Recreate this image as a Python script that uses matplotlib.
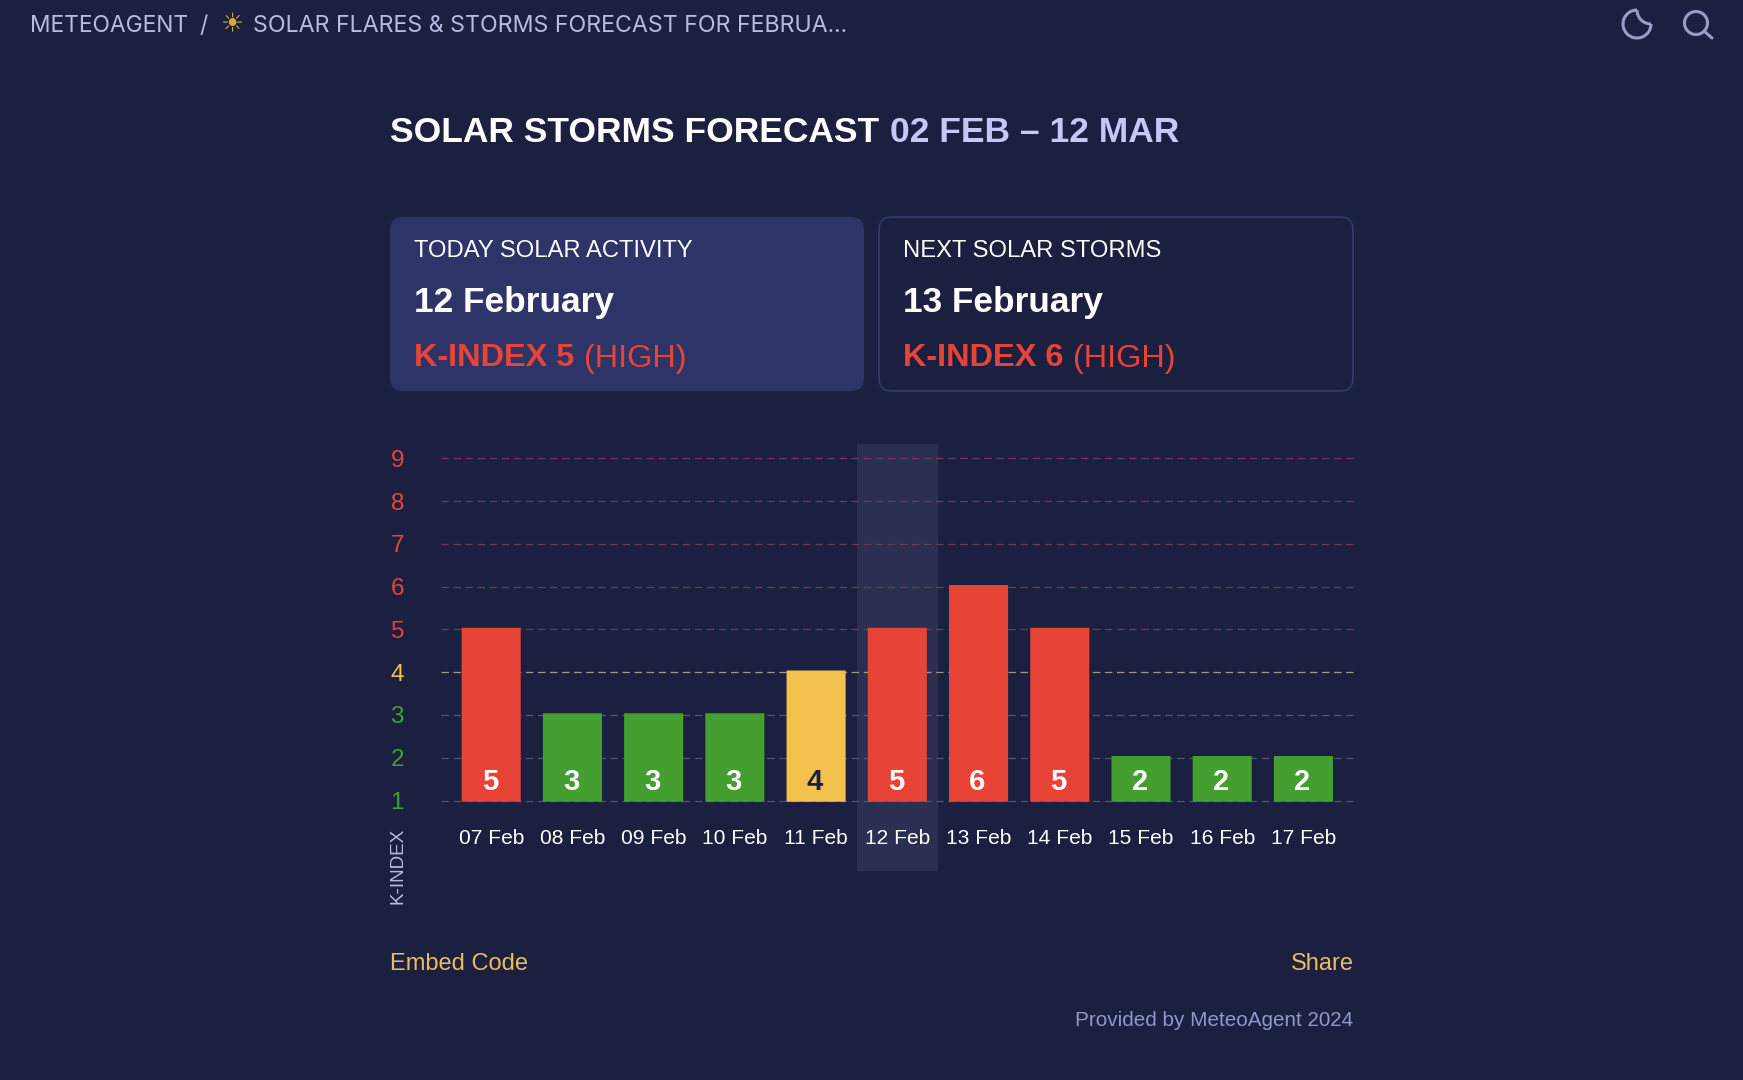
#!/usr/bin/env python3
"""K-index forecast card, redrawn with a pixel overlay for the page chrome."""

import matplotlib
matplotlib.use("Agg")
import matplotlib.pyplot as plt
from matplotlib.patches import Arc, Circle, FancyBboxPatch, Rectangle

W, H = 1743, 1080

dates = ["07 Feb", "08 Feb", "09 Feb", "10 Feb", "11 Feb", "12 Feb",
         "13 Feb", "14 Feb", "15 Feb", "16 Feb", "17 Feb"]
kindex = [5, 3, 3, 3, 4, 5, 6, 5, 2, 2, 2]
levels = [1, 2, 3, 4, 5, 6, 7, 8, 9]
today = "12 Feb"

BG, CARD, CARD_EDGE, BAND = "#1c2040", "#2f3468", "#3a3f75", "#2b3052"
RED, GREEN, YELLOW = "#e84337", "#449e30", "#f2c14e"
LILAC, SOFT, MUTED = "#b9b9e2", "#c5c8f5", "#9296c8"
SANS = "Liberation Sans"

plt.rcParams.update({"font.family": SANS})


def level_color(k):
    if k >= 5:
        return RED
    return YELLOW if k == 4 else GREEN


def grid_color(k):
    if k >= 5:
        return "#6f3a52"
    return "#9c9682" if k == 4 else "#51556f"


fig = plt.figure(figsize=(W / 100, H / 100), dpi=100, facecolor=BG)
page = fig.add_axes([0, 0, 1, 1])
page.set_xlim(0, W)
page.set_ylim(H, 0)
page.axis("off")
renderer = fig.canvas.get_renderer()


def run(x, y, parts, gap=0):
    # lay text runs end to end on one baseline
    for s, size, weight, color in parts:
        t = page.text(x, y, s, fontsize=size, weight=weight, color=color,
                      va="baseline")
        x += t.get_window_extent(renderer).width + gap


# ------------------------------------------------------------- top bar
page.text(30, 32, "METEOAGENT", family="Inter", fontsize=16.4, color=LILAC,
          va="baseline")
page.text(199, 32, "/", family="Inter", fontsize=16.6, color=LILAC,
          va="baseline", ha="left")
page.text(232, 24, "☀", family="DejaVu Sans", fontsize=18.5, color="#d9a63e",
          ha="center", va="center")
page.text(253, 32, "SOLAR FLARES & STORMS FORECAST FOR FEBRUA...",
          family="Inter", fontsize=16.7, color=LILAC, va="baseline")

ICON = "#9a9cc8"
page.add_patch(Arc((1637, 24), 28, 28, theta1=0, theta2=270, color=ICON, lw=2.2))
page.add_patch(Arc((1651, 10), 28, 28, theta1=90, theta2=180, color=ICON, lw=2.2))
page.add_patch(Circle((1696, 23), 11.5, fill=False, edgecolor=ICON, lw=2.2))
page.plot([1704, 1712], [31, 38], color=ICON, lw=2.2, solid_capstyle="round")

# --------------------------------------------------------------- title
run(390, 141.5, [("SOLAR STORMS FORECAST", 25.5, "bold", "white"),
                 ("02 FEB – 12 MAR", 25.5, "bold", SOFT)], gap=11)

# --------------------------------------------------------------- cards
page.add_patch(FancyBboxPatch((390, 217), 474, 174, facecolor=CARD,
                              edgecolor="none",
                              boxstyle="round,pad=0,rounding_size=13"))
page.add_patch(FancyBboxPatch((879, 217), 474, 174, facecolor=BG,
                              edgecolor=CARD_EDGE, lw=1.0,
                              boxstyle="round,pad=0,rounding_size=13"))
for x0, head, day, k in [(414, "TODAY SOLAR ACTIVITY", "12 February", 5),
                         (903, "NEXT SOLAR STORMS", "13 February", 6)]:
    page.text(x0, 257, head, fontsize=17.1, color="white", va="baseline")
    page.text(x0, 312, day, fontsize=25.4, weight="bold", color="white",
              va="baseline")
    run(x0, 366.5, [(f"K-INDEX {k}", 23.4, "bold", RED),
                    ("(HIGH)", 23.4, "normal", RED)], gap=10)

# --------------------------------------------------------------- chart
ax = fig.add_axes([441 / W, (H - 800.5) / H, 912 / W, 357 / H],
                  facecolor="none")
ax.set_xlim(-0.618, 10.61)
ax.set_ylim(1, 9.35)
for s in ax.spines.values():
    s.set_visible(False)

ax.add_patch(Rectangle((dates.index(today) - 0.5, -0.66), 1, 10.01,
                       facecolor=BAND, edgecolor="none", zorder=1,
                       clip_on=False))
for k in levels:
    ax.axhline(k, color=grid_color(k), lw=0.9, dashes=(6, 3.65), zorder=2,
               clip_on=False)

# bars stand about 2 px proud of their grid line, with small round tops
x_pos = range(len(dates))
bars = ax.bar(x_pos, [v - 0.97 + 0.04 for v in kindex], bottom=0.97, width=0.727,
              color=[level_color(v) for v in kindex], zorder=3, clip_on=False)
for b, v in zip(bars, kindex):
    b.set_snap(False)
    clip = FancyBboxPatch((b.get_x(), 0), b.get_width(), v + 0.04,
                          boxstyle="round,pad=0,rounding_size=0.04",
                          mutation_aspect=0.52, transform=ax.transData)
    b.set_clip_path(clip)
    ax.annotate(str(v), (b.get_x() + b.get_width() / 2, 1),
                xytext=(-1, 7.2), textcoords="offset points", ha="center",
                va="baseline", fontsize=21, weight="bold", zorder=4,
                color=BG if v == 4 else "white")

ax.set_xticks(list(x_pos), dates)
ax.set_yticks(levels, [str(k) for k in levels])
ax.tick_params(axis="x", length=0, pad=20.5, labelsize=15.1, labelcolor="white")
ax.tick_params(axis="y", length=0, pad=26.6, labelsize=17.5)
for lab, k in zip(ax.get_yticklabels(), levels):
    lab.set_color(level_color(k))

page.text(398, 904, "K-INDEX", rotation=90, ha="center", va="bottom",
          fontsize=13.6, color=LILAC)

# -------------------------------------------------------------- footer
page.text(390, 969.5, "Embed Code", fontsize=17, color="#e9bd5c",
          va="baseline")
page.text(1353.5, 969.5, "Share", fontsize=17, color="#e9bd5c", va="baseline",
          ha="right")
page.text(1353.5, 1026, "Provided by MeteoAgent 2024", fontsize=14.85,
          color=MUTED, va="baseline", ha="right")

fig.savefig("out.png", dpi=100, facecolor=BG)
